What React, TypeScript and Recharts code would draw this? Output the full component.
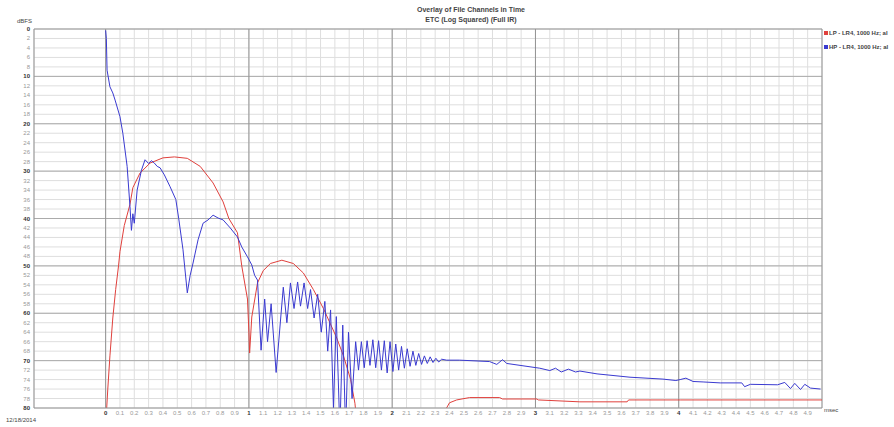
import React from "react";
import {
    LineChart,
    Line,
    XAxis,
    YAxis,
    CartesianGrid,
    ReferenceLine,
} from "recharts";

// LP - LR4 (red), time in msec, level in dB below full scale
const lpTime = [
    0.0, 0.015, 0.03, 0.05, 0.07, 0.09, 0.1, 0.13, 0.17, 0.19, 0.24, 0.31, 0.4,
    0.48, 0.57, 0.66, 0.75, 0.82, 0.86, 0.92, 0.95, 0.99, 1.0, 1.005, 1.02, 1.06,
    1.1, 1.15, 1.23, 1.31, 1.38, 1.45, 1.52, 1.61, 1.66, 1.71, 1.74, 1.76, 1.8,
    2.3, 2.37, 2.4, 2.45, 2.54, 2.75, 2.77, 3.01, 3.02, 3.31, 3.64, 3.65, 4.01,
    4.5, 5.0,
];
const lpDb = [
    84, 76, 69, 61, 55, 50, 47, 41.5, 37, 33.5, 30.4, 28.3, 27.2,
    27, 27.3, 29, 32.5, 36.5, 40, 43, 50, 57, 64, 68.4, 60.8, 53.6,
    51, 49.5, 48.8, 49.5, 51.5, 55, 59, 65, 69, 74, 79, 85, 90,
    90, 80.5, 78.9, 78.3, 77.8, 77.8, 78.1, 78.1, 78.3, 78.7, 78.7, 78.3, 78.3,
    78.3, 78.3,
];

// HP - LR4 (blue)
const hpTime = [
    0.0, 0.005, 0.01, 0.03, 0.05, 0.066, 0.1, 0.12, 0.15, 0.17, 0.18, 0.19, 0.2,
    0.22, 0.25, 0.275, 0.3, 0.32, 0.34, 0.36, 0.38, 0.41, 0.45, 0.49, 0.51, 0.54,
    0.57, 0.59, 0.61, 0.645, 0.68, 0.715, 0.75, 0.785, 0.82, 0.87, 0.92, 0.95,
    0.99, 1.02, 1.04, 1.06, 1.085, 1.11, 1.13, 1.155, 1.19, 1.24, 1.265, 1.29,
    1.315, 1.34, 1.36, 1.385, 1.41, 1.43, 1.455, 1.48, 1.505, 1.53, 1.55, 1.57,
    1.59, 1.61, 1.635, 1.655, 1.675, 1.695, 1.72, 1.745, 1.765, 1.785, 1.805,
    1.825, 1.845, 1.865, 1.885, 1.905, 1.925, 1.945, 1.965, 1.985, 2.005, 2.025,
    2.045, 2.065, 2.085, 2.105, 2.125, 2.145, 2.165, 2.185, 2.205, 2.225, 2.245,
    2.265, 2.285, 2.305, 2.325, 2.345, 2.38, 2.47, 2.68, 2.73, 2.77, 2.8, 3.03,
    3.1, 3.14, 3.18, 3.23, 3.28, 3.31, 3.43, 3.66, 3.89, 3.98, 4.01, 4.05, 4.1,
    4.17, 4.29, 4.44, 4.46, 4.5, 4.69, 4.74, 4.78, 4.81, 4.85, 4.88, 4.92, 4.99,
];
const hpDb = [
    0.3, 2, 8.7, 12.2, 13.5, 15, 18.5, 22, 29, 37.5, 42.5, 39, 41,
    34, 29.8, 27.6, 28.4, 27.8, 28.3, 29, 29.3, 30.8, 33.3, 36, 40, 46.6,
    55.7, 52, 49.4, 44.5, 41, 40.3, 39.3, 39.9, 40.3, 42, 43.9, 46,
    48.1, 49.8, 52, 53, 67.8, 57, 66, 58, 72.5, 54.5, 62, 53.6,
    59, 53.4, 58.5, 53.6, 59, 55, 61, 56, 64, 57.5, 68, 59.3,
    80, 60.7, 85, 62.5, 85, 64, 78, 66, 72, 66, 71.5,
    65.8, 71, 65.6, 71.5, 65.8, 72, 65.8, 72.6, 66, 72.3, 66.5,
    72, 67, 71.6, 67.5, 71.2, 68, 71, 68.5, 70.8, 69, 70.6,
    69.2, 70.4, 69.5, 70.3, 69.7, 69.9, 69.9, 70.2, 70.8, 69.8, 70.6, 71.6,
    72.1, 71.6, 72.4, 71.8, 72.4, 72.2, 72.8, 73.5, 73.9, 74.2, 74.0, 73.7, 74.4,
    74.5, 74.7, 74.7, 75.5, 75.0, 75.1, 74.6, 75.9, 74.8, 76.1, 75.0, 75.8, 76.0,
];

const xTicks = [
    0, 0.1, 0.2, 0.3, 0.4, 0.5, 0.6, 0.7, 0.8, 0.9,
    1, 1.1, 1.2, 1.3, 1.4, 1.5, 1.6, 1.7, 1.8, 1.9,
    2, 2.1, 2.2, 2.3, 2.4, 2.5, 2.6, 2.7, 2.8, 2.9,
    3, 3.1, 3.2, 3.3, 3.4, 3.5, 3.6, 3.7, 3.8, 3.9,
    4, 4.1, 4.2, 4.3, 4.4, 4.5, 4.6, 4.7, 4.8, 4.9,
];
const yTicks = [
    0, 2, 4, 6, 8, 10, 12, 14, 16, 18, 20, 22, 24, 26, 28, 30, 32, 34, 36, 38,
    40, 42, 44, 46, 48, 50, 52, 54, 56, 58, 60, 62, 64, 66, 68, 70, 72, 74, 76,
    78, 80,
];
const majorX = [0, 1, 2, 3, 4];
const majorY = [10, 20, 30, 40, 50, 60, 70];

const seriesNames = ["LP - LR4, 1000 Hz; al", "HP - LR4, 1000 Hz; al"];
const seriesColors = ["#e0403c", "#3a3ad0"];

const lpData = lpTime.map((t, i) => ({ t, db: lpDb[i] }));
const hpData = hpTime.map((t, i) => ({ t, db: hpDb[i] }));

const FONT = '"Liberation Sans", Arial, sans-serif';

const XTick = (props: any) => {
    const { x, y, payload } = props;
    const major = Number.isInteger(payload.value);
    return (
        <text
            x={x}
            y={y + 5}
            textAnchor="middle"
            fontSize={6}
            fontFamily={FONT}
            fontWeight={major ? "bold" : "normal"}
            fill={major ? "#333" : "#999"}
        >
            {String(payload.value)}
        </text>
    );
};

const YTick = (props: any) => {
    const { x, y, payload } = props;
    const major = payload.value % 10 === 0;
    return (
        <text
            x={x - 2}
            y={y + 2}
            textAnchor="end"
            fontSize={6}
            fontFamily={FONT}
            fontWeight={major ? "bold" : "normal"}
            fill={major ? "#333" : "#999"}
        >
            {payload.value}
        </text>
    );
};

export default function App() {
    return (
        <div
            style={{
                position: "absolute",
                left: 0,
                top: 0,
                width: 894,
                height: 427,
                background: "#fff",
                fontFamily: FONT,
                overflow: "hidden",
            }}
        >
            <div
                style={{
                    position: "absolute",
                    left: 371,
                    width: 200,
                    top: 5,
                    textAlign: "center",
                    fontSize: 7,
                    fontWeight: "bold",
                    color: "#444",
                    lineHeight: "10px",
                }}
            >
                <div>Overlay of File Channels in Time</div>
                <div>ETC (Log Squared) (Full IR)</div>
            </div>

            <div
                style={{
                    position: "absolute",
                    left: 17,
                    top: 18,
                    fontSize: 6,
                    color: "#444",
                }}
            >
                dBFS
            </div>

            <div
                style={{
                    position: "absolute",
                    left: 824,
                    top: 26,
                    fontSize: 6,
                    fontWeight: "bold",
                    color: "#444",
                    whiteSpace: "nowrap",
                    lineHeight: "14px",
                }}
            >
                {seriesNames.map((name, i) => (
                    <div key={name} style={{ display: "flex", alignItems: "center" }}>
                        <span
                            style={{
                                display: "inline-block",
                                width: 4,
                                height: 4,
                                background: seriesColors[i],
                                marginRight: 1,
                            }}
                        />
                        {name}
                    </div>
                ))}
            </div>

            <div
                style={{
                    position: "absolute",
                    left: 824,
                    top: 407,
                    fontSize: 6,
                    color: "#444",
                }}
            >
                msec
            </div>

            <div
                style={{
                    position: "absolute",
                    left: 6,
                    top: 417,
                    fontSize: 6,
                    color: "#444",
                }}
            >
                12/18/2014
            </div>

            <LineChart
                width={894}
                height={427}
                margin={{ top: 29, right: 72, bottom: 7, left: 8 }}
            >
                <CartesianGrid
                    stroke="#dedede"
                    strokeWidth={1}
                    horizontal={true}
                    vertical={true}
                />
                {majorY.map((v) => (
                    <ReferenceLine key={"y" + v} y={v} stroke="#ababab" strokeWidth={1} />
                ))}
                {majorX.map((v) => (
                    <ReferenceLine key={"x" + v} x={v} stroke="#939393" strokeWidth={1} />
                ))}
                <ReferenceLine y={0} stroke="#939393" />
                <ReferenceLine x={5} stroke="#939393" />
                <XAxis
                    dataKey="t"
                    type="number"
                    domain={[-0.5, 5]}
                    ticks={xTicks}
                    interval={0}
                    tick={<XTick />}
                    tickLine={false}
                    tickSize={0}
                    height={12}
                    stroke="#939393"
                    allowDataOverflow
                />
                <YAxis
                    type="number"
                    reversed
                    domain={[0, 80]}
                    ticks={yTicks}
                    interval={0}
                    tick={<YTick />}
                    tickLine={false}
                    tickSize={0}
                    width={26}
                    stroke="#939393"
                    allowDataOverflow
                />
                <Line
                    data={lpData}
                    dataKey="db"
                    stroke={seriesColors[0]}
                    strokeWidth={1}
                    dot={false}
                    isAnimationActive={false}
                    type="linear"
                />
                <Line
                    data={hpData}
                    dataKey="db"
                    stroke={seriesColors[1]}
                    strokeWidth={1}
                    dot={false}
                    isAnimationActive={false}
                    type="linear"
                />
            </LineChart>
        </div>
    );
}
